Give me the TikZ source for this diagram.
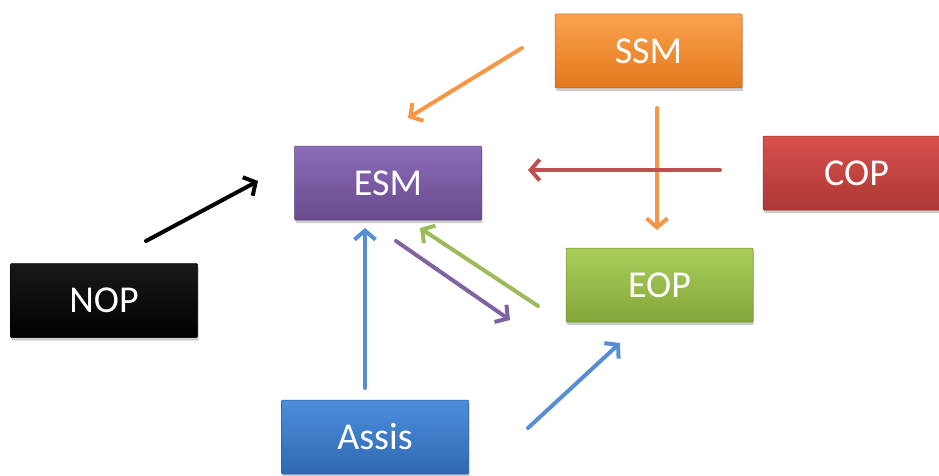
\documentclass[tikz,border=0pt]{standalone}
\usepackage{fontspec}
\setmainfont{Carlito}
\usetikzlibrary{arrows.meta,shadows}

\definecolor{ssmtop}{HTML}{FBA24E}
\definecolor{ssmbot}{HTML}{E3781C}
\definecolor{esmtop}{HTML}{8C6CB8}
\definecolor{esmbot}{HTML}{684A8E}
\definecolor{coptop}{HTML}{D9504C}
\definecolor{copbot}{HTML}{AC3835}
\definecolor{eoptop}{HTML}{A9CF5A}
\definecolor{eopbot}{HTML}{85A63A}
\definecolor{assistop}{HTML}{4C8EDC}
\definecolor{assisbot}{HTML}{2F68B2}
\definecolor{ssmorange}{HTML}{F79646}
\definecolor{esmpurple}{HTML}{8064A2}
\definecolor{copred}{HTML}{C0504D}
\definecolor{eopgreen}{HTML}{9BBB59}
\definecolor{arrowblue}{HTML}{558ED5}

\begin{document}
\begin{tikzpicture}[x=1pt,y=-1pt, font=\fontsize{38}{44}\selectfont, line cap=round,
	>={Straight Barb[length=9pt,width=21pt,line width=4pt]},
	box/.style={minimum width=187pt, minimum height=74pt, inner sep=0pt, text=white,
		rounded corners=1pt, line width=0.5pt,
		drop shadow={opacity=0.4, shadow xshift=1pt, shadow yshift=-3pt}},
	link/.style={line width=4pt, ->}]
	\clip (0,0) rectangle (939,476);
	% boxes
	\node[box, top color=ssmtop, bottom color=ssmbot, draw=ssmbot!85!black] (ssm) at (648.5,51) {SSM};
	\node[box, top color=esmtop, bottom color=esmbot, draw=esmbot!85!black] (esm) at (388,183) {ESM};
	\node[box, top color=coptop, bottom color=copbot, draw=copbot!85!black] (cop) at (856.5,173) {COP};
	\node[box, top color=eoptop, bottom color=eopbot, draw=eopbot!85!black] (eop) at (659.5,285) {EOP};
	\node[box, top color=black!90, bottom color=black, draw=black] (nop) at (104,300.5) {NOP};
	\node[box, top color=assistop, bottom color=assisbot, draw=assisbot!85!black] (assis) at (375,437) {Assis};
	% arrow ends
	\coordinate (ssm-s)at(522,48);
	\coordinate (esm-n)at(408,118);
	\coordinate (ssm-d)at(657,108);
	\coordinate (eop-n)at(657,230);
	\coordinate (cop-w)at(720,170);
	\coordinate (esm-e)at(528,170);
	\coordinate (nop-n)at(146,241);
	\coordinate (esm-w)at(258,181);
	\coordinate (assis-n)at(365,388);
	\coordinate (esm-s)at(365,228);
	\coordinate (esm-se)at(396,241);
	\coordinate (eop-w)at(510,320);
	\coordinate (eop-nw)at(538,306);
	\coordinate (esm-sr)at(420,228);
	\coordinate (assis-e)at(528,428);
	\coordinate (eop-s)at(620,343);
	% arrows
	\draw[link, ssmorange] (ssm-s)--(esm-n);
	\draw[link, ssmorange] (ssm-d)--(eop-n);
	\draw[link, copred] (cop-w)--(esm-e);
	\draw[link, black] (nop-n)--(esm-w);
	\draw[link, arrowblue] (assis-n)--(esm-s);
	\draw[link, esmpurple] (esm-se)--(eop-w);
	\draw[link, eopgreen] (eop-nw)--(esm-sr);
	\draw[link, arrowblue] (assis-e)--(eop-s);
\end{tikzpicture}
\end{document}
